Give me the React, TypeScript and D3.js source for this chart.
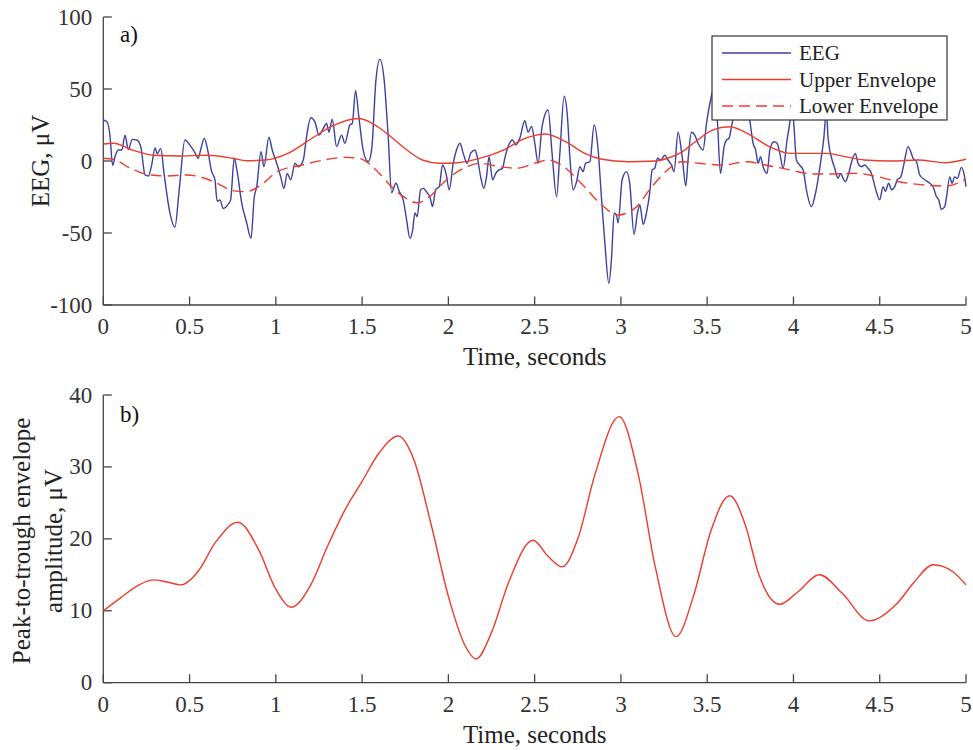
import React, { useEffect, useRef } from "react";
import * as d3 from "d3";

// EEG trace (time in s, value in µV)
const eegT = [
  0, 0.023, 0.039, 0.054, 0.068, 0.087, 0.107, 0.126, 0.145, 0.168, 0.194, 0.217, 0.242, 0.261, 0.28, 0.3,
  0.313, 0.333, 0.352, 0.386, 0.415, 0.44, 0.473, 0.502, 0.531, 0.55, 0.564, 0.585, 0.603, 0.628, 0.647, 0.66,
  0.676, 0.695, 0.724, 0.738, 0.759, 0.776, 0.802, 0.831, 0.856, 0.875, 0.889, 0.914, 0.931, 0.96, 0.979, 1.005,
  1.028, 1.047, 1.066, 1.086, 1.111, 1.13, 1.159, 1.178, 1.203, 1.227, 1.25, 1.275, 1.294, 1.308, 1.327, 1.352,
  1.381, 1.4, 1.429, 1.443, 1.462, 1.481, 1.506, 1.535, 1.555, 1.58, 1.603, 1.628, 1.651, 1.671, 1.696, 1.715,
  1.738, 1.758, 1.777, 1.793, 1.806, 1.819, 1.839, 1.854, 1.877, 1.893, 1.908, 1.926, 1.947, 1.966, 1.986, 2.005,
  2.028, 2.047, 2.067, 2.086, 2.109, 2.129, 2.154, 2.167, 2.187, 2.206, 2.221, 2.236, 2.256, 2.275, 2.294, 2.314,
  2.327, 2.346, 2.372, 2.391, 2.414, 2.443, 2.462, 2.482, 2.501, 2.52, 2.543, 2.578, 2.601, 2.627, 2.646, 2.671,
  2.69, 2.704, 2.723, 2.743, 2.762, 2.781, 2.795, 2.82, 2.845, 2.868, 2.888, 2.907, 2.93, 2.946, 2.961, 2.974,
  2.984, 3.007, 3.032, 3.051, 3.076, 3.096, 3.11, 3.129, 3.148, 3.167, 3.181, 3.196, 3.212, 3.231, 3.254, 3.273,
  3.293, 3.308, 3.331, 3.355, 3.376, 3.389, 3.409, 3.428, 3.447, 3.476, 3.496, 3.519, 3.538, 3.559, 3.577, 3.598,
  3.612, 3.627, 3.641, 3.694, 3.747, 3.766, 3.781, 3.795, 3.809, 3.824, 3.847, 3.863, 3.886, 3.905, 3.921, 3.94,
  3.963, 3.979, 3.99, 4.003, 4.017, 4.036, 4.056, 4.075, 4.104, 4.123, 4.148, 4.162, 4.175, 4.191, 4.2, 4.224,
  4.239, 4.258, 4.274, 4.287, 4.301, 4.32, 4.34, 4.359, 4.374, 4.394, 4.413, 4.432, 4.452, 4.475, 4.5, 4.519,
  4.533, 4.552, 4.568, 4.587, 4.602, 4.622, 4.641, 4.664, 4.68, 4.693, 4.713, 4.732, 4.761, 4.79, 4.809, 4.829,
  4.842, 4.857, 4.877, 4.886, 4.906, 4.919, 4.934, 4.95, 4.973, 4.988, 5.0,
];
const eegV = [
  28.5, 27, 17, -3, 3, 7.6, 7.6, 18, 8, 15, 14.6, 10, -9.7, -10.4, -3, 9,
  5, 8.8, -8.6, -36, -46, -20, 14.6, 11, 5.8, 1.9, 7.6, 15.7, 8.8, -7.4, -13, -28,
  -27, -33, -30, -27, 1.9, -7.4, -29, -43, -53.7, -25, -18, 6.5, -4, 16.5, 7.6, -1.6,
  -11, -19, -8.6, -13, -1.6, -4, 0.7, 17, 30, 27, 18, 22.7, 26, 20, 29, 10,
  18, 12.3, 25, 26, 48.8, 30.8, 7.6, -0.5, 7.6, 56, 70.6, 56, 17, -22, -15.5, -21,
  -27, -41, -53.7, -48, -36, -38.7, -20, -19, -22, -25, -31.7, -20, -17.8, -2.8, -8.5, -20,
  -1.6, 7.6, 12.3, 5.3, -1.6, 5.3, 7.6, 3, -11, -19, -11, 3, -13, -8.5, -6.2, -5,
  1.9, 10, 14.6, 11, 15.8, 28, 20, 24, 12.3, -1.6, 23.8, 35.4, 5.3, -24.8, 5.3, 45,
  30.8, 3, -20, -14.4, -4, -7.4, -1.6, -0.5, 25, 7.6, -27, -57, -85, -66.5, -36, -37.5,
  -43, -13, -7.4, -15.5, -51, -36, -30.6, -44, -36, -22, -6.2, -5, 1.9, 0.7, 4, 0.7,
  -2.8, -7.4, 20, 3, -17.4, 0.7, 20, 18, 12.3, 7.6, 26, 42, 50, 28, -8.6, 10,
  14.6, 15.8, 24, 48, 28, 12.3, 7.6, -1.6, 3, -4, -8.6, 7.6, 13.4, 12.3, 5.3, -5,
  14.6, 27, 40, 24, 0.7, -2.8, -6.2, -20, -31.7, -25, -8.6, 3, 14.6, 35, 17, 0.7,
  -5, -12, -8.6, -12, -14.4, -8.6, 0.7, 5.3, -1.6, -4, -2.8, -5, -8.6, -19, -27, -17.8,
  -21, -15.5, -20, -17.8, -13, -11, -1.6, 10, 6.5, 1.9, -0.5, -9.7, -13, -15.5, -17.8, -24.8,
  -27, -33.6, -31.7, -26, -11, -15.5, -11, -12, -4.4, -8.6, -17.8,
];

const upperT = [
  0, 0.06, 0.17, 0.29, 0.44, 0.6, 0.75, 0.83, 0.94, 1.07, 1.21, 1.32, 1.48, 1.59, 1.67, 1.76, 1.85, 1.95, 2.05,
  2.2, 2.34, 2.43, 2.51, 2.56, 2.68, 2.79, 2.89, 3.04, 3.2, 3.27, 3.35, 3.42, 3.53, 3.63, 3.75, 3.86, 3.98, 4.11,
  4.19, 4.3, 4.41, 4.57, 4.72, 4.88, 5.0,
];
const upperV = [
  11.8, 12.3, 7.6, 4, 3.5, 4, 1.9, 0.2, 0.7, 5.3, 15.8, 23.8, 29.5, 23.8, 16.5, 7.6, 0.7, -1.6, -1.2,
  2.5, 8.8, 15, 18, 18.7, 13.4, 5.3, 1.2, -0.5, 0, 1.9, 6, 12.3, 21.5, 23.8, 18, 10, 5.3, 5.3,
  5.3, 3, 0.7, 0, 0.7, -1.2, 1.2,
];

const lowerT = [
  0, 0.06, 0.155, 0.27, 0.37, 0.48, 0.56, 0.66, 0.75, 0.83, 0.9, 1.01, 1.15, 1.28, 1.4, 1.48, 1.59, 1.67, 1.74,
  1.82, 1.89, 1.99, 2.09, 2.18, 2.3, 2.4, 2.51, 2.58, 2.655, 2.77, 2.89, 2.98, 3.08, 3.18, 3.27, 3.35, 3.45, 3.59,
  3.73, 3.84, 3.98, 4.11, 4.19, 4.37, 4.47, 4.61, 4.76, 4.88, 5.0,
];
const lowerV = [
  1.9, 1.2, -5, -9.7, -10.4, -9.7, -11, -15.5, -20.6, -21.3, -17.8, -7.4, -2.8, 0.7, 2.5, 1.9, -7.4, -17.8, -24.8,
  -29, -24.8, -13, -5, -1.6, -4, -5, -1.2, 0.7, -2.8, -15.5, -30.6, -37.5, -32.9, -17.8, -6.2, -0.5, -1.6, -2.8,
  -0.5, -2.8, -6.2, -9, -9, -8.6, -10.4, -14.4, -16.7, -17.4, -12.7,
];

// Peak-to-trough envelope amplitude
const ampT = [
  0, 0.1, 0.2, 0.29, 0.37, 0.45, 0.55, 0.65, 0.78, 0.9, 1.0, 1.09, 1.2, 1.3, 1.4, 1.5, 1.6, 1.71, 1.8, 1.9, 2.0,
  2.1, 2.16, 2.25, 2.35, 2.49, 2.58, 2.66, 2.75, 2.85, 2.99, 3.1, 3.2, 3.32, 3.42, 3.52, 3.63, 3.72, 3.8, 3.92,
  4.02, 4.15, 4.28, 4.44, 4.6, 4.7, 4.81, 4.92, 5.0,
];
const ampV = [
  10, 11.8, 13.5, 14.3, 14, 13.6, 15.5, 19.5, 22.3, 18.5, 13, 10.5, 13.5, 19, 24, 28, 32, 34.3, 31, 22, 12,
  5, 3.3, 7, 14, 19.8, 17.5, 16.1, 20, 29, 37, 29, 16, 6.4, 12, 21, 26, 22, 15, 10.9,
  12.5, 15, 12.5, 8.6, 11, 14, 16.4, 15.5, 13.6,
];

const xTicks = [0, 0.5, 1, 1.5, 2, 2.5, 3, 3.5, 4, 4.5, 5];
const yTicksA = [-100, -50, 0, 50, 100];
const yTicksB = [0, 10, 20, 30, 40];
const legendLabels = ["EEG", "Upper Envelope", "Lower Envelope"];

const FONT = "'Liberation Serif', 'Times New Roman', serif";
const AXIS = "#444";
const BLUE = "#3c41a0";
const RED = "#ee3b2b";

const App = () => {
  const svgRef = useRef(null);

  useEffect(() => {
    const svg = d3.select(svgRef.current);
    svg.selectAll("*").remove();

    const left = 103.3,
      right = 966;
    const xScale = d3.scaleLinear([0, 5], [left, right]);

    function drawAxes(yScale, yTicks, top, bottom) {
      const g = svg.append("g");
      g.append("line")
        .attr("x1", left).attr("x2", left).attr("y1", top).attr("y2", bottom)
        .attr("stroke", AXIS).attr("stroke-width", 1.3);
      g.append("line")
        .attr("x1", left).attr("x2", right).attr("y1", bottom).attr("y2", bottom)
        .attr("stroke", AXIS).attr("stroke-width", 1.3);
      xTicks.forEach((t) => {
        g.append("line")
          .attr("x1", xScale(t)).attr("x2", xScale(t))
          .attr("y1", bottom).attr("y2", bottom - 8.5)
          .attr("stroke", AXIS).attr("stroke-width", 1.3);
        g.append("text")
          .attr("x", xScale(t)).attr("y", bottom + 29)
          .attr("text-anchor", "middle")
          .attr("font-family", FONT).attr("font-size", 23).attr("fill", "#333")
          .text(String(t));
      });
      yTicks.forEach((v) => {
        g.append("line")
          .attr("x1", left).attr("x2", left + 8.5)
          .attr("y1", yScale(v)).attr("y2", yScale(v))
          .attr("stroke", AXIS).attr("stroke-width", 1.3);
        g.append("text")
          .attr("x", left - 11).attr("y", yScale(v) + 7.5)
          .attr("text-anchor", "end")
          .attr("font-family", FONT).attr("font-size", 23).attr("fill", "#333")
          .text(String(v));
      });
      g.append("text")
        .attr("x", (left + right) / 2).attr("y", bottom + 60)
        .attr("text-anchor", "middle")
        .attr("font-family", FONT).attr("font-size", 25).attr("fill", "#222")
        .text("Time, seconds");
    }

    // ---- panel a) ----
    const yA = d3.scaleLinear([-100, 100], [305, 17]);
    drawAxes(yA, yTicksA, 17, 305);

    const lineA = d3
      .line()
      .x((d) => xScale(d[0]))
      .y((d) => yA(d[1]))
      .curve(d3.curveMonotoneX);

    svg.append("path")
      .datum(eegT.map((t, i) => [t, eegV[i]]))
      .attr("fill", "none").attr("stroke", BLUE).attr("stroke-width", 1.4)
      .attr("stroke-linejoin", "round")
      .attr("d", lineA);
    svg.append("path")
      .datum(upperT.map((t, i) => [t, upperV[i]]))
      .attr("fill", "none").attr("stroke", RED).attr("stroke-width", 1.4)
      .attr("d", lineA);
    svg.append("path")
      .datum(lowerT.map((t, i) => [t, lowerV[i]]))
      .attr("fill", "none").attr("stroke", RED).attr("stroke-width", 1.4)
      .attr("stroke-dasharray", "11,6")
      .attr("d", lineA);

    svg.append("text")
      .attr("x", 120).attr("y", 42)
      .attr("font-family", FONT).attr("font-size", 23).attr("fill", "#111")
      .text("a)");

    svg.append("text")
      .attr("transform", "translate(49,161) rotate(-90)")
      .attr("text-anchor", "middle")
      .attr("font-family", FONT).attr("font-size", 25).attr("fill", "#222")
      .text("EEG, \u03bcV");

    // legend
    const lg = svg.append("g");
    lg.append("rect")
      .attr("x", 712).attr("y", 36).attr("width", 235).attr("height", 84)
      .attr("fill", "white").attr("stroke", "#333").attr("stroke-width", 1.2);
    legendLabels.forEach((label, i) => {
      const y = 53 + i * 26.5;
      lg.append("line")
        .attr("x1", 722).attr("x2", 791).attr("y1", y).attr("y2", y)
        .attr("stroke", i === 0 ? BLUE : RED).attr("stroke-width", 1.4)
        .attr("stroke-dasharray", i === 2 ? "11,6" : null);
      lg.append("text")
        .attr("x", 799).attr("y", y + 7)
        .attr("font-family", FONT).attr("font-size", 21).attr("fill", "#222")
        .text(label);
    });

    // ---- panel b) ----
    const yB = d3.scaleLinear([0, 40], [682.7, 395]);
    drawAxes(yB, yTicksB, 395, 682.7);

    const lineB = d3
      .line()
      .x((d) => xScale(d[0]))
      .y((d) => yB(d[1]))
      .curve(d3.curveMonotoneX);
    svg.append("path")
      .datum(ampT.map((t, i) => [t, ampV[i]]))
      .attr("fill", "none").attr("stroke", RED).attr("stroke-width", 1.4)
      .attr("d", lineB);

    svg.append("text")
      .attr("x", 120).attr("y", 422)
      .attr("font-family", FONT).attr("font-size", 23).attr("fill", "#111")
      .text("b)");

    const yl = svg.append("text")
      .attr("transform", "translate(0,541) rotate(-90)")
      .attr("text-anchor", "middle")
      .attr("font-family", FONT).attr("font-size", 25).attr("fill", "#222");
    yl.append("tspan").attr("x", 0).attr("y", 30).text("Peak-to-trough envelope");
    yl.append("tspan").attr("x", 0).attr("y", 62).text("amplitude, \u03bcV");
  }, []);

  return (
    <svg
      ref={svgRef}
      width={973}
      height={750}
      style={{ position: "absolute", left: 0, top: 0, background: "white" }}
    ></svg>
  );
};

export default App;
